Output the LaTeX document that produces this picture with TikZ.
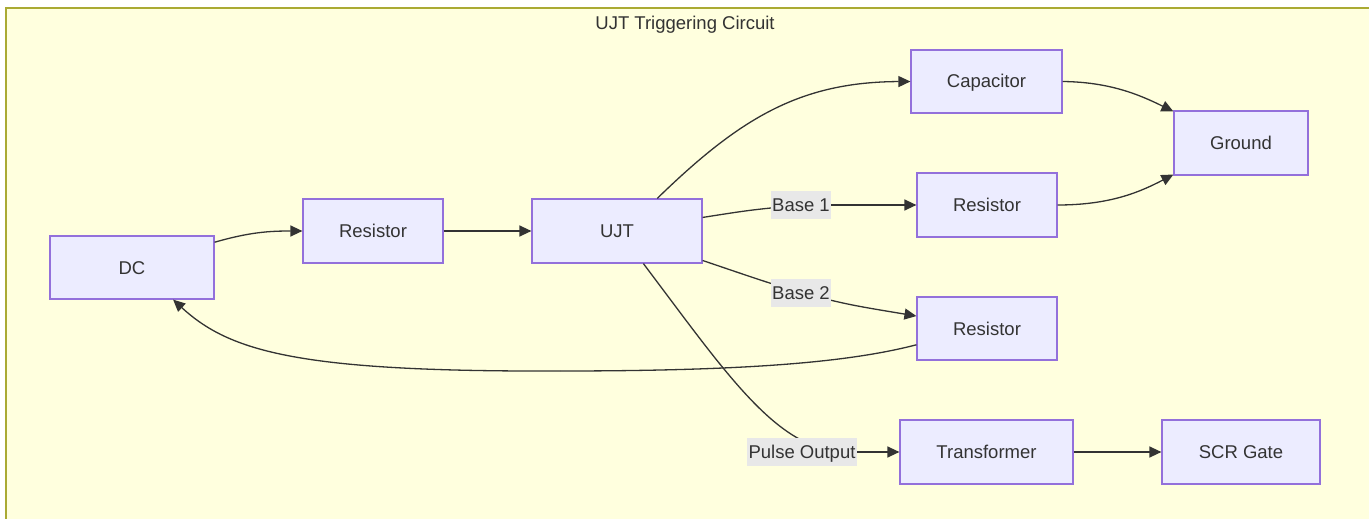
\documentclass[tikz,border=0pt]{standalone}
\usepackage{fontspec}
\setmainfont{Liberation Sans}
\usetikzlibrary{arrows.meta}
\definecolor{bgc}{HTML}{FFFFDE}
\definecolor{framec}{HTML}{AAAA33}
\definecolor{nodefill}{HTML}{ECECFF}
\definecolor{nodedraw}{HTML}{9370DB}
\definecolor{txt}{HTML}{333333}
\definecolor{lblbg}{HTML}{E8E8E8}
\tikzset{
  box/.style={draw=nodedraw, fill=nodefill, line width=1.2pt, rectangle, text=txt,
    font=\fontsize{18.5}{22}\selectfont, inner sep=0pt, text height=13.5pt, text depth=0.5pt},
  lbl/.style={fill=lblbg, text=txt, font=\fontsize{18.5}{22}\selectfont, inner sep=1pt,
    minimum height=28pt, text height=13.5pt, text depth=0.5pt},
  edge/.style={draw=txt, line width=1.3pt, -{Triangle[length=12pt,width=11pt]}},
  plain/.style={draw=txt, line width=1.3pt}
}
\begin{document}
\begin{tikzpicture}[x=1pt,y=-1pt]
\useasboundingbox (0,0) rectangle (1369,519);
\fill[white] (0,0) rectangle (1369,519);
\begin{scope}
\clip (0,0) rectangle (1369,519);
\draw[framec, fill=bgc, line width=1.2pt] (6,8) rectangle (1380,540);
\end{scope}
\node[text=txt, font=\fontsize{18.5}{22}\selectfont, text height=13.5pt, text depth=0.5pt] (title) at (685,23) {UJT Triggering Circuit};

\node[box, minimum width=164pt, minimum height=63pt] (dc) at (132,267.5) {DC};
\node[box, minimum width=140pt, minimum height=64pt] (r1) at (373,231) {Resistor};
\node[box, minimum width=170pt, minimum height=64pt] (ujt) at (617,231) {UJT};
\node[box, minimum width=151pt, minimum height=63pt] (cap) at (986.5,81.5) {Capacitor};
\node[box, minimum width=134pt, minimum height=64pt] (gnd) at (1241,143) {Ground};
\node[box, minimum width=140pt, minimum height=64pt] (r2) at (987,205) {Resistor};
\node[box, minimum width=140pt, minimum height=63pt] (r3) at (987,328.5) {Resistor};
\node[box, minimum width=173pt, minimum height=64pt] (tr) at (986.5,452) {Transformer};
\node[box, minimum width=158pt, minimum height=64pt] (scr) at (1241,452) {SCR Gate};

% edges
\draw[edge] (dc.17) .. controls (250,232) and (270,231) .. (r1.west);
\draw[edge] (r1.east) -- (ujt.west);
\draw[edge] (ujt.39) .. controls (740,118) and (800,82) .. (cap.west);
\coordinate (b1c) at (801,205);
\coordinate (b2c) at (801,293);
\coordinate (plc) at (802,452);
\coordinate (plin) at (830,450);
\draw[plain] (ujt.9) .. controls (750,210) .. (b1c);
\draw[edge] (b1c) .. controls (850,205) .. (r2.west);
\draw[plain] (ujt.-19) .. controls (760,280) .. (b2c);
\draw[edge] (b2c) .. controls (850,305) .. (r3.170);
\draw[plain] (ujt.-51) .. controls (720,365) and (770,440) .. (plin);
\draw[edge] (plc) -- (tr.west);
\draw[edge] (cap.east) .. controls (1110,82) and (1140,95) .. (gnd.155);
\draw[edge] (r2.east) .. controls (1110,205) and (1140,192) .. (gnd.205);
\draw[plain] (r3.193) .. controls (850,362) and (750,371) .. (560,371);
\draw[edge] (560,371) .. controls (300,372) and (230,352) .. (dc.-38);
\draw[edge] (tr.east) -- (scr.west);

\node[lbl, minimum width=58pt] (b1) at (b1c) {Base 1};
\node[lbl, minimum width=58pt] (b2) at (b2c) {Base 2};
\node[lbl, minimum width=110pt] (pl) at (plc) {Pulse Output};
\end{tikzpicture}
\end{document}
